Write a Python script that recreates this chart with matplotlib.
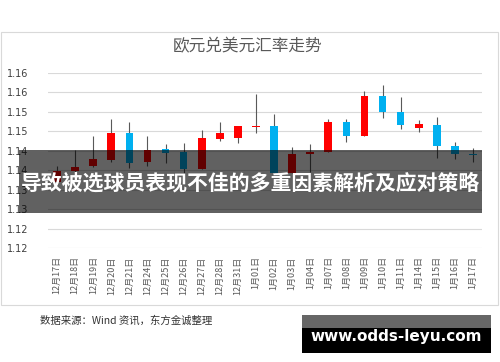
import numpy as np
import matplotlib
matplotlib.use("Agg")
import matplotlib.pyplot as plt
from matplotlib.patches import Rectangle

plt.rcParams['font.family'] = ['Noto Sans CJK SC', 'DejaVu Sans']

# data (EUR/USD daily OHLC)
dates = ['12月17日', '12月18日', '12月19日', '12月20日', '12月21日', '12月24日',
         '12月25日', '12月26日', '12月27日', '12月28日', '12月31日', '1月01日',
         '1月02日', '1月03日', '1月04日', '1月07日', '1月08日', '1月09日',
         '1月10日', '1月11日', '1月14日', '1月15日', '1月16日', '1月17日']
opens = [1.1370, 1.1398, 1.1410, 1.1426, 1.1496, 1.1422, 1.1454, 1.1446,
         1.1402, 1.1480, 1.1484, 1.1512, 1.1514, 1.1392, 1.1442, 1.1446,
         1.1523, 1.1488, 1.1592, 1.1549, 1.1508, 1.1516, 1.1462, 1.1443]
closes = [1.1398, 1.1409, 1.1428, 1.1496, 1.1419, 1.1452, 1.1445, 1.1402,
          1.1482, 1.1495, 1.1515, 1.1515, 1.1392, 1.1443, 1.1446, 1.1523,
          1.1489, 1.1592, 1.1549, 1.1516, 1.1518, 1.1462, 1.1443, 1.1439]
highs = [1.1410, 1.1452, 1.1488, 1.1533, 1.1523, 1.1488, 1.1467, 1.1469,
         1.1503, 1.1524, 1.1515, 1.1596, 1.1545, 1.1459, 1.1467, 1.1532,
         1.1533, 1.1604, 1.1619, 1.1588, 1.1529, 1.1538, 1.1473, 1.1456]
lows = [1.1360, 1.1388, 1.1408, 1.1422, 1.1405, 1.1411, 1.1419, 1.1393,
        1.1402, 1.1475, 1.1471, 1.1497, 1.1392, 1.1392, 1.1396, 1.1446,
        1.1472, 1.1488, 1.1535, 1.1506, 1.1499, 1.1431, 1.1428, 1.1422]
yticks = [1.120, 1.125, 1.130, 1.135, 1.140, 1.145, 1.150, 1.155, 1.160, 1.165]
ytick_labels = ['1.12', '1.12', '1.13', '1.13', '1.14', '1.14', '1.15', '1.15', '1.16', '1.16']

W, H = 500, 362
fig = plt.figure(figsize=(W / 100, H / 100), dpi=100)
fig.patch.set_facecolor('white')

# chart frame
fig.add_artist(Rectangle((1 / W, 1 - 305 / H), 497 / W, 273 / H, transform=fig.transFigure,
                         facecolor='none', edgecolor='#D9D9D9', lw=0.8, zorder=0))

ax = fig.add_axes([48 / W, 1 - 248 / H, 434 / W, 175 / H])
x = np.arange(len(dates))
o = np.array(opens)
c = np.array(closes)
up = c >= o
colors = np.where(up, '#FF0000', '#00B0F0')

ax.vlines(x, lows, highs, color='#595959', lw=0.8, zorder=2)
body = np.maximum(np.abs(c - o), 0.0003)
ax.bar(x, body, bottom=np.minimum(o, c), width=0.42, color=colors, zorder=3)

ax.set_xlim(-0.5, len(dates) - 0.5)
ax.set_ylim(1.12, 1.165)
ax.set_yticks(yticks)
ax.set_yticklabels(ytick_labels, fontsize=7, color='#404040', family='DejaVu Sans')
ax.set_xticks(x)
ax.set_xticklabels(dates, rotation=90, fontsize=6.5, color='#595959')
ax.tick_params(length=0)
ax.tick_params(axis='y', pad=14)
ax.tick_params(axis='x', pad=6)
ax.grid(axis='y', color='#D9D9D9', lw=0.8)
ax.set_axisbelow(True)
for s in ax.spines.values():
    s.set_visible(False)

fig.text(248 / W, 1 - 47 / H, '欧元兑美元汇率走势', ha='center', va='center',
         fontsize=12, color='#595959')

# overlay banner
fig.add_artist(Rectangle((19 / W, 1 - 213 / H), 463 / W, 63 / H, transform=fig.transFigure,
                         facecolor='black', alpha=0.62, edgecolor='none', zorder=5))
fig.text(250 / W, 1 - 183 / H, '导致被选球员表现不佳的多重因素解析及应对策略', ha='center',
         va='center', fontsize=15, color='white', weight='bold', zorder=6)

fig.text(40 / W, 1 - 321 / H, '数据来源：Wind 资讯，东方金诚整理', ha='left', va='center',
         fontsize=7.5, color='#333333')

# watermark
fig.add_artist(Rectangle((302 / W, 1 - 328 / H), 189 / W, 13 / H, transform=fig.transFigure,
                         facecolor='#666666', edgecolor='none', zorder=5))
fig.add_artist(Rectangle((302 / W, 1 - 353 / H), 189 / W, 25 / H, transform=fig.transFigure,
                         facecolor='black', edgecolor='none', zorder=5))
fig.text(396 / W, 1 - 337 / H, 'www.odds-leyu.com', ha='center', va='center',
         fontsize=11, color='white', weight='bold', family='DejaVu Sans', zorder=6)

fig.savefig('out.png', dpi=100)
